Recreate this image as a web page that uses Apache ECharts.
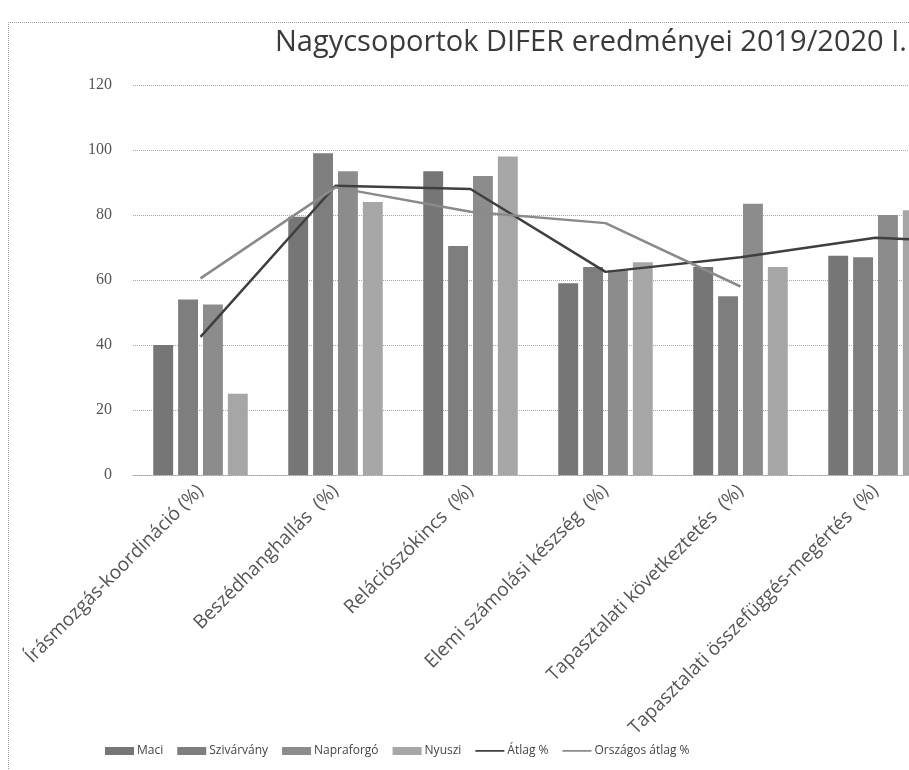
<!DOCTYPE html>
<html>
<head>
<meta charset="utf-8">
<script src="https://cdn.jsdelivr.net/npm/echarts@6/dist/echarts.min.js"></script>
<style>
  html, body { margin: 0; padding: 0; background: #fff; overflow: hidden; }
  #chart { position: absolute; left: 0; top: 0; width: 909px; height: 770px; }
  #frame { position: absolute; left: 8px; top: 22px; width: 960px; height: 800px;
           border-left: 1px dotted #9a9a9a; border-top: 1px dotted #9a9a9a; pointer-events: none; }
</style>
</head>
<body>
<div id="chart"></div>
<div id="frame"></div>
<script>
const categories = [
  'Írásmozgás-koordináció (%)',
  'Beszédhanghallás  (%)',
  'Relációszókincs  (%)',
  'Elemi számolási készség  (%)',
  'Tapasztalati következtetés  (%)',
  'Tapasztalati összefüggés-megértés  (%)',
  'Szocialitás  (%)'
];
const yTicks = [0, 20, 40, 60, 80, 100, 120];
const maci       = [40, 79.5, 93.5, 59, 64, 67.5, null];
const szivarvany = [54, 99, 70.5, 64, 55, 67, null];
const napraforgo = [52.5, 93.5, 92, 63, 83.5, 80, null];
const nyuszi     = [25, 84, 98, 65.5, 64, 81.5, null];
const atlag      = [42.5, 89, 88, 62.5, 67, 73, 71];
const orszagos   = [60.5, 88.5, 81, 77.5, 58, null, null];

const lineIcon = 'path://M0 3 H30 V4.8 H0 Z M0 0 H0.01 V8 H0 Z';
const chart = echarts.init(document.getElementById('chart'), null, { renderer: 'canvas' });

function barSeries(name, data, color) {
  return {
    name, type: 'bar', data,
    barGap: '25%', barCategoryGap: '30%',
    itemStyle: { color },
    emphasis: { disabled: true }
  };
}
function lineSeries(name, data, color) {
  return {
    name, type: 'line', data,
    symbol: 'none', connectNulls: false,
    lineStyle: { color, width: 2.5 },
    itemStyle: { color },
    emphasis: { disabled: true }
  };
}

chart.setOption({
  animation: false,
  title: {
    text: 'Nagycsoportok DIFER eredményei 2019/2020 I.',
    left: 270, top: 23,
    textStyle: { fontFamily: "'Open Sans', sans-serif", fontSize: 29, fontWeight: 'normal', color: '#3a3a3a' }
  },
  legend: {
    left: 100, top: 740,
    itemWidth: 29, itemHeight: 8, itemGap: 14,
    textStyle: { fontFamily: "'Open Sans', sans-serif", fontSize: 12, color: '#444', padding: [0, 0, 0, -2] },
    data: [
      { name: 'Maci', icon: 'rect' },
      { name: 'Szivárvány', icon: 'rect' },
      { name: 'Napraforgó', icon: 'rect' },
      { name: 'Nyuszi', icon: 'rect' },
      { name: 'Átlag %', icon: lineIcon },
      { name: 'Országos átlag %', icon: lineIcon }
    ]
  },
  grid: { left: 133, top: 85, width: 945, height: 390, containLabel: false, outerBoundsMode: 'none' },
  xAxis: {
    type: 'category', data: categories,
    axisLine: { show: true, lineStyle: { color: '#a0a0a0', type: 'dotted', width: 1 } },
    axisTick: { show: false },
    axisLabel: {
      rotate: 45, interval: 0, margin: 13,
      fontFamily: "'Open Sans', sans-serif", fontSize: 19, color: '#555'
    }
  },
  yAxis: {
    type: 'value', min: 0, max: 120, interval: 20,
    axisLine: { show: false }, axisTick: { show: false },
    axisLabel: {
      margin: 21, fontFamily: "'Liberation Serif', serif", fontSize: 16, color: '#555',
      formatter: v => (yTicks.includes(v) ? String(v) : '')
    },
    splitLine: { show: true, lineStyle: { color: '#a8a8a8', type: 'dotted', width: 1 } }
  },
  series: [
    barSeries('Maci', maci, '#767676'),
    barSeries('Szivárvány', szivarvany, '#7e7e7e'),
    barSeries('Napraforgó', napraforgo, '#8c8c8c'),
    barSeries('Nyuszi', nyuszi, '#a6a6a6'),
    lineSeries('Átlag %', atlag, '#3f3f3f'),
    lineSeries('Országos átlag %', orszagos, '#8a8a8a')
  ]
});
</script>
</body>
</html>
